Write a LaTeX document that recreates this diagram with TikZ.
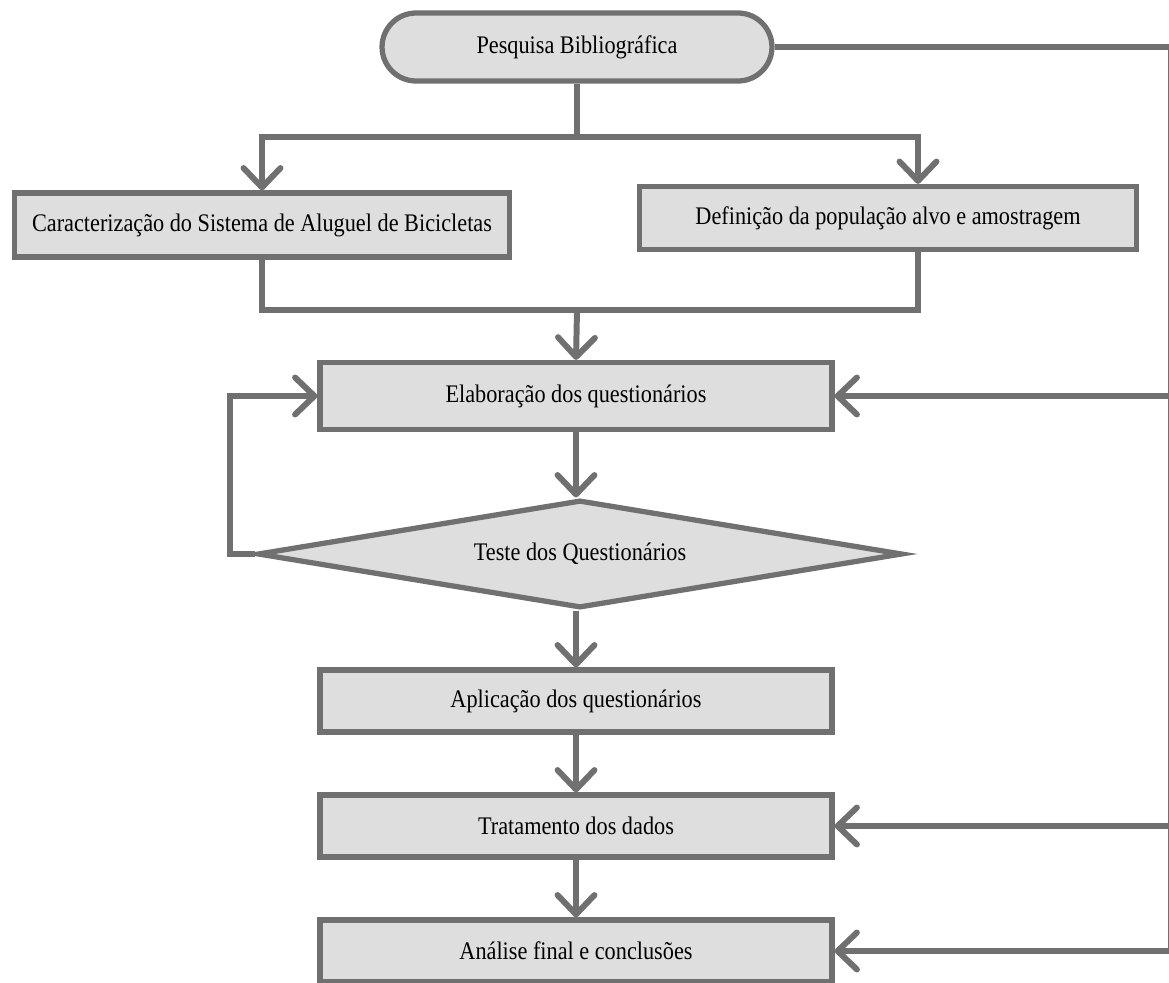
\documentclass[tikz,border=0pt]{standalone}
\usepackage{fontspec}
\setmainfont{Liberation Serif}[FakeStretch=0.88]
\usetikzlibrary{arrows.meta,shapes.geometric,shapes.misc,positioning}
\definecolor{linegray}{RGB}{112,112,112}
\definecolor{boxgray}{RGB}{222,222,222}
\tikzset{
  box/.style={draw=linegray,fill=boxgray,line width=3pt,minimum width=10.24cm,minimum height=1.24cm,inner sep=0pt},
  flow/.style={draw=linegray,line width=3.4pt},
  arr/.style={flow,-{Straight Barb[round,length=11pt,width=21pt]}}
}
\begin{document}
\begin{tikzpicture}[x=0.02cm,y=-0.02cm,font=\fontsize{14.4}{17}\selectfont]
\useasboundingbox (0,0) rectangle (1169,983);
\node[box,rounded rectangle,minimum width=7.8cm,minimum height=1.36cm] (pesq) at (577,47) {Pesquisa Bibliográfica};
\node[box,minimum width=9.9cm,minimum height=1.28cm] (carac) at (262,225) {Caracterização do Sistema de Aluguel de Bicicletas};
\node[box,minimum width=9.94cm,minimum height=1.26cm] (defi) at (888,218) {Definição da população alvo e amostragem};
\node[box,minimum height=1.34cm] (elab) at (576,396) {Elaboração dos questionários};
\node[box,diamond,aspect=6,minimum width=12.9cm,minimum height=2.16cm] (teste) at (580,554) {Teste dos Questionários};
\node[box] (apl) at (576,701) {Aplicação dos questionários};
\node[box] (trat) at (576,826) {Tratamento dos dados};
\node[box] (anal) at (576,951) {Análise final e conclusões};
\coordinate (split) at (577,137);
\coordinate (merge) at (577,310);
\coordinate (back) at (1171,47);
\draw[flow] (pesq.south) -- (split);
\draw[arr] (split) -| (carac.north);
\draw[arr] (split) -| ([xshift=0.6cm]defi.north);
\draw[flow] (carac.south) |- (merge);
\draw[flow] ([xshift=0.6cm]defi.south) |- (merge);
\draw[arr] (merge) -- (elab.north);
\draw[arr] (elab.south) -- (elab.south |- teste.north);
\draw[arr] (teste.west) -- ++(-25,0) |- (elab.west);
\draw[arr] (elab.south |- teste.south) -- (apl.north);
\draw[arr] (apl.south) -- (trat.north);
\draw[arr] (trat.south) -- (anal.north);
\draw[arr] (pesq.east) -- (back) |- (anal.east);
\draw[arr] (back |- elab.east) -- (elab.east);
\draw[arr] (back |- trat.east) -- (trat.east);
\end{tikzpicture}
\end{document}
